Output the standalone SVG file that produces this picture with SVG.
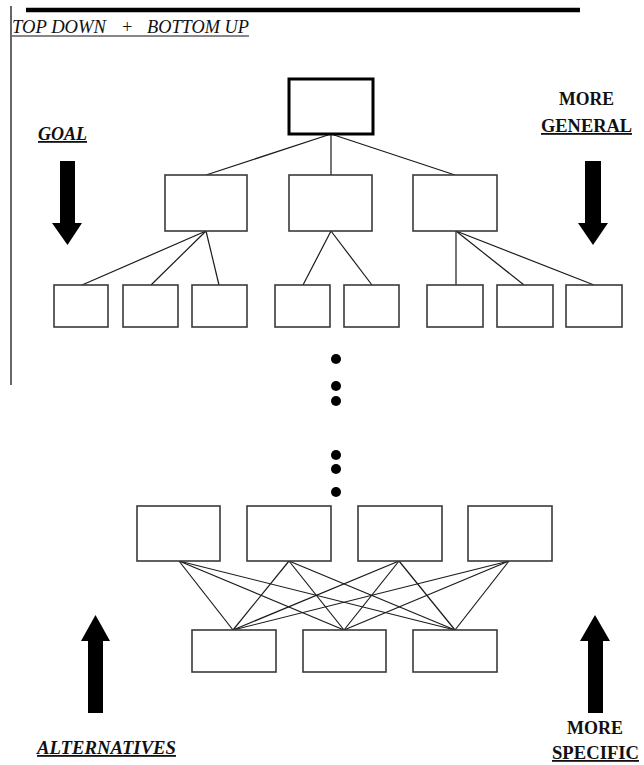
<svg xmlns="http://www.w3.org/2000/svg" width="644" height="765" viewBox="0 0 644 765">
<style>
.box{fill:#fff;stroke:#3a3a3a;stroke-width:1.6}
.root{fill:#fff;stroke:#000;stroke-width:3}
.edge{stroke:#1a1a1a;stroke-width:1.2;fill:none}
.lbl{font-family:"Liberation Serif","Times New Roman",serif;font-weight:bold;font-size:18px;fill:#111;text-decoration:underline}
.it{font-style:italic}
.ttl{font-family:"Liberation Serif","Times New Roman",serif;font-style:italic;font-size:18px;fill:#111}
.arrow{fill:#000}
.dot{fill:#000}
</style>
<g id="frame">
<line x1="26" y1="10" x2="580" y2="10" stroke="#000" stroke-width="4.5"/>
<line x1="11" y1="6" x2="11" y2="385" stroke="#000" stroke-width="1.2"/>
</g>
<g id="title">
<text class="ttl" x="12" y="33" textLength="94" lengthAdjust="spacingAndGlyphs">TOP DOWN</text>
<text class="ttl" x="121" y="33">+</text>
<text class="ttl" x="147" y="33" textLength="102" lengthAdjust="spacingAndGlyphs">BOTTOM UP</text>
<line x1="12" y1="36" x2="249" y2="36" stroke="#111" stroke-width="1.2"/>
</g>
<g id="labels">
<text id="goal" class="lbl it" x="38" y="140" textLength="49" lengthAdjust="spacingAndGlyphs">GOAL</text>
<text id="more-general-1" class="lbl" x="559" y="105" textLength="55" lengthAdjust="spacingAndGlyphs" style="text-decoration:none">MORE</text>
<text id="more-general-2" class="lbl" x="541" y="132" textLength="91" lengthAdjust="spacingAndGlyphs">GENERAL</text>
<text id="alternatives" class="lbl it" x="37" y="754" textLength="139" lengthAdjust="spacingAndGlyphs">ALTERNATIVES</text>
<text id="more-specific-1" class="lbl" x="567" y="734" textLength="56" lengthAdjust="spacingAndGlyphs" style="text-decoration:none">MORE</text>
<text id="more-specific-2" class="lbl" x="552" y="759" textLength="87" lengthAdjust="spacingAndGlyphs">SPECIFIC</text>
</g>
<g id="arrows">
<polygon class="arrow" points="60,161 75,161 75,223 82,223 67.5,245 52,223 60,223"/>
<polygon class="arrow" points="585,161 601,161 601,223 608,223 593,245 578,223 585,223"/>
<polygon class="arrow" points="88,713 103,713 103,641 110,641 95.5,615 81,641 88,641"/>
<polygon class="arrow" points="588,713 603,713 603,641 610,641 595,615 580,641 588,641"/>
</g>
<g id="connectors">
<line class="edge" x1="331" y1="134" x2="206" y2="175"/>
<line class="edge" x1="331" y1="134" x2="331" y2="175"/>
<line class="edge" x1="331" y1="134" x2="455" y2="175"/>
<line class="edge" x1="206" y1="231" x2="82" y2="285"/>
<line class="edge" x1="206" y1="231" x2="151" y2="285"/>
<line class="edge" x1="206" y1="231" x2="219" y2="285"/>
<line class="edge" x1="331" y1="231" x2="303" y2="285"/>
<line class="edge" x1="331" y1="231" x2="372" y2="285"/>
<line class="edge" x1="456" y1="231" x2="456" y2="285"/>
<line class="edge" x1="456" y1="231" x2="524" y2="285"/>
<line class="edge" x1="456" y1="231" x2="594" y2="285"/>
<line class="edge" x1="179" y1="561" x2="233" y2="630"/>
<line class="edge" x1="179" y1="561" x2="344" y2="630"/>
<line class="edge" x1="179" y1="561" x2="455" y2="630"/>
<line class="edge" x1="289" y1="561" x2="233" y2="630"/>
<line class="edge" x1="289" y1="561" x2="344" y2="630"/>
<line class="edge" x1="289" y1="561" x2="455" y2="630"/>
<line class="edge" x1="399" y1="561" x2="233" y2="630"/>
<line class="edge" x1="399" y1="561" x2="344" y2="630"/>
<line class="edge" x1="399" y1="561" x2="455" y2="630"/>
<line class="edge" x1="509" y1="561" x2="233" y2="630"/>
<line class="edge" x1="509" y1="561" x2="344" y2="630"/>
<line class="edge" x1="509" y1="561" x2="455" y2="630"/>
</g>
<g id="root"><rect class="root" x="289" y="79" width="84" height="55"/></g>
<g id="l2-1"><rect class="box" x="165" y="175" width="82" height="56"/></g>
<g id="l2-2"><rect class="box" x="289" y="175" width="83" height="56"/></g>
<g id="l2-3"><rect class="box" x="413" y="175" width="84" height="56"/></g>
<g id="l3-1"><rect class="box" x="54" y="285" width="54" height="42"/></g>
<g id="l3-2"><rect class="box" x="123" y="285" width="55" height="42"/></g>
<g id="l3-3"><rect class="box" x="192" y="285" width="55" height="42"/></g>
<g id="l3-4"><rect class="box" x="275" y="285" width="55" height="42"/></g>
<g id="l3-5"><rect class="box" x="344" y="285" width="55" height="42"/></g>
<g id="l3-6"><rect class="box" x="427" y="285" width="56" height="42"/></g>
<g id="l3-7"><rect class="box" x="497" y="285" width="56" height="42"/></g>
<g id="l3-8"><rect class="box" x="566" y="285" width="56" height="42"/></g>
<g id="dots">
<circle class="dot" cx="336" cy="359" r="5"/>
<circle class="dot" cx="336" cy="386" r="5"/>
<circle class="dot" cx="336" cy="401" r="5"/>
<circle class="dot" cx="336" cy="455" r="5"/>
<circle class="dot" cx="336" cy="469" r="5"/>
<circle class="dot" cx="336" cy="492" r="5"/>
</g>
<g id="b1-1"><rect class="box" x="137" y="506" width="83" height="55"/></g>
<g id="b1-2"><rect class="box" x="247" y="506" width="84" height="55"/></g>
<g id="b1-3"><rect class="box" x="358" y="506" width="84" height="55"/></g>
<g id="b1-4"><rect class="box" x="468" y="506" width="84" height="55"/></g>
<g id="b2-1"><rect class="box" x="192" y="630" width="84" height="42"/></g>
<g id="b2-2"><rect class="box" x="303" y="630" width="83" height="42"/></g>
<g id="b2-3"><rect class="box" x="413" y="630" width="84" height="42"/></g>
</svg>
